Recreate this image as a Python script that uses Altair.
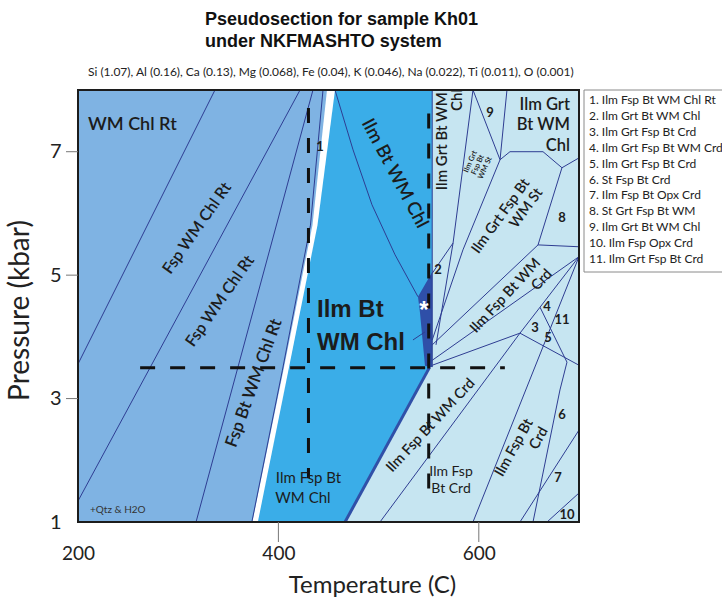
import altair as alt
import pandas as pd

# ---------------- data (temperature in C, pressure in kbar) ----------------
T_DOMAIN = [200, 700]
P_DOMAIN = [1, 8]
x_label_values = [200, 400, 600]
y_label_values = [1, 3, 5, 7]
x_tick_values = [400, 600]
y_tick_values = [3, 5, 7]

# field boundaries
left_field_T = [448.5, 434.0, 405.0, 374.0]
left_field_P = [8.0, 5.81, 3.46, 1.0]
white_band_T = [456.5, 439.0, 410.0, 379.5]
white_band_P = [8.0, 5.81, 3.46, 1.0]
mid_field_T = [553.5, 553.5, 551.0, 466.5]
mid_field_P = [8.0, 3.56, 3.51, 1.0]
star_field_T = [553.5, 539.3, 541.3, 546.3, 551.0]
star_field_P = [5.05, 4.65, 4.39, 3.53, 3.51]

# thin reaction lines (pairs of T / P lists)
L1_T = [336.7, 200.0]; L1_P = [8.0, 3.56]
L2_T = [421.6, 200.0]; L2_P = [8.0, 1.34]
L3_T = [434.5, 317.8]; L3_P = [8.0, 1.0]
L4_T = [444.5, 432.0, 404.0, 373.5]; L4_P = [8.0, 5.81, 3.46, 1.0]
C1_T = [456.5, 474.5, 493.4, 516.4, 539.3]; C1_P = [8.0, 7.03, 6.14, 5.33, 4.65]
C2_T = [534.3, 546.3]; C2_P = [3.95, 4.08]
S1_T = [553.5, 553.5]; S1_P = [8.0, 3.51]
S2_T = [594.2, 574.3, 557.3]; S2_P = [8.0, 5.52, 3.87]
S2a_T = [574.3, 553.5]; S2a_P = [5.52, 5.03]
S3_T = [594.2, 621.2]; S3_P = [8.0, 6.87]
S4_T = [628.1, 621.2]; S4_P = [8.0, 6.87]
S5_T = [621.2, 584.2, 553.5]; S5_P = [6.87, 5.41, 3.95]
S6_T = [621.2, 631.1, 664.1, 683.0]; S6_P = [6.87, 7.0, 7.0, 6.74]
S7_T = [683.0, 700.0]; S7_P = [6.74, 6.90]
S8_T = [683.0, 659.1]; S8_P = [6.74, 5.49]
S9_T = [659.1, 700.0]; S9_P = [5.49, 5.46]
S10_T = [659.1, 553.5]; S10_P = [5.49, 3.87]
S11_T = [700.0, 553.5]; S11_P = [5.30, 3.62]
S12_T = [553.5, 641.1]; S12_P = [3.54, 4.06]
S13_T = [641.1, 700.0]; S13_P = [4.06, 3.54]
S15_T = [700.0, 594.2]; S15_P = [5.30, 1.0]
S16_T = [641.1, 501.4]; S16_P = [4.06, 1.0]
S20_T = [641.1, 661.1, 700.0]; S20_P = [4.06, 4.48, 5.30]
S21_T = [661.1, 688.0, 681.0, 654.1]; S21_P = [4.48, 3.59, 3.14, 1.0]
S18_T = [700.0, 641.1]; S18_P = [2.49, 1.0]
S19_T = [700.0, 668.1]; S19_P = [1.47, 1.0]
thick_T = [551.0, 466.5]; thick_P = [3.51, 1.0]

# dashed guide lines
D1_T = [430, 430]; D1_P = [7.71, 1.71]
D2_T = [550, 550]; D2_P = [7.62, 1.47]
D3_T = [262, 626]; D3_P = [3.5, 3.5]

title_text = "Pseudosection for sample Kh01\nunder NKFMASHTO system"
subtitle_text = ("Si (1.07), Al (0.16), Ca (0.13), Mg (0.068), Fe (0.04), K (0.046), "
                 "Na (0.022), Ti (0.011), O (0.001)")
legend_items = [
    "1. Ilm Fsp Bt WM Chl Rt", "2. Ilm Grt Bt WM Chl", "3. Ilm Grt Fsp Bt Crd",
    "4. Ilm Grt Fsp Bt WM Crd", "5. Ilm Grt Fsp Bt Crd", "6. St Fsp Bt Crd",
    "7. Ilm Fsp Bt Opx Crd", "8. St Grt Fsp Bt WM", "9. Ilm Grt Bt WM Chl",
    "10. Ilm Fsp Opx Crd", "11. Ilm Grt Fsp Bt Crd",
]

# ---------------- styles ----------------
LEFT = "#7fb3e3"
MID = "#3aade8"
LIGHT = "#c6e5f1"
STAR = "#2f4fa8"
NAVY = "#2e3d92"
INK = "#1c1c1c"
FONT = "Lato"

W, H = 501, 432

xs = alt.Scale(domain=T_DOMAIN, nice=False, zero=False)
ys = alt.Scale(domain=P_DOMAIN, nice=False, zero=False)
xax = alt.Axis(values=x_label_values, title="Temperature (C)", ticks=False, domain=False,
               grid=False, labelFontSize=19, labelFont=FONT, labelColor="#222",
               labelPadding=22, labelFlush=False, labelOverlap=False,
               titleFont=FONT, titleFontSize=24, titleFontWeight="normal", titleColor="#222",
               titleX=294, titleY=63, titleAlign="center", titleBaseline="middle")
yax = alt.Axis(values=y_label_values, title="Pressure (kbar)", ticks=False, domain=False,
               grid=False, labelFontSize=20, labelFont=FONT, labelColor="#222",
               labelPadding=17, labelFlush=False, labelOverlap=False,
               titleFont=FONT, titleFontSize=28, titleFontWeight="normal", titleColor="#222",
               titleX=-58, titleY=220, titleAlign="center", titleBaseline="middle",
               titleAngle=270)


def X(f):
    return alt.X(f, type="quantitative", scale=xs, axis=xax)


def Y(f):
    return alt.Y(f, type="quantitative", scale=ys, axis=yax)


def field_area(Ts, Ps, base, color):
    df = pd.DataFrame({"T": Ts, "P": Ps, "B": [base] * len(Ts)})
    return alt.Chart(df).mark_area(orient="horizontal", fill=color, stroke=None).encode(
        y=Y("P"), x=X("T"), x2="B")


def lines(pairs, **style):
    rows = []
    for k, (Ts, Ps) in enumerate(pairs):
        for i, (t, p) in enumerate(zip(Ts, Ps)):
            rows.append({"seg": k, "i": i, "T": t, "P": p})
    return alt.Chart(pd.DataFrame(rows)).mark_line(**style).encode(
        x=X("T"), y=Y("P"), detail="seg:N", order="i:Q")


def label(text, t, p, size=15, angle=0, align="center", weight=600, color=INK,
          font=FONT, lh=None, baseline="middle"):
    kw = dict(text=text, fontSize=size, angle=angle, align=align, baseline=baseline,
              fontWeight=weight, color=color, font=font, lineBreak="\n")
    if lh:
        kw["lineHeight"] = lh
    return alt.Chart(pd.DataFrame({"T": [t], "P": [p]})).mark_text(**kw).encode(
        x=X("T"), y=Y("P"))


bg = alt.Chart(pd.DataFrame({"T0": [T_DOMAIN[0]], "T1": [T_DOMAIN[1]],
                             "P0": [P_DOMAIN[0]], "P1": [P_DOMAIN[1]]})).mark_rect(
    fill=LIGHT).encode(x=X("T0"), x2="T1", y=Y("P0"), y2="P1")

mid = field_area(mid_field_T, mid_field_P, 200, MID)
white = field_area(white_band_T, white_band_P, 200, "#ffffff")
left = field_area(left_field_T, left_field_P, 200, LEFT)
star = field_area(star_field_T, star_field_P, 553.5, STAR)

thin = lines([(L1_T, L1_P), (L2_T, L2_P), (L3_T, L3_P), (L4_T, L4_P), (C1_T, C1_P),
              (C2_T, C2_P), (S1_T, S1_P), (S2_T, S2_P), (S2a_T, S2a_P), (S3_T, S3_P),
              (S4_T, S4_P), (S5_T, S5_P), (S6_T, S6_P), (S7_T, S7_P), (S8_T, S8_P),
              (S9_T, S9_P), (S10_T, S10_P), (S11_T, S11_P), (S12_T, S12_P),
              (S13_T, S13_P), (S15_T, S15_P), (S16_T, S16_P), (S20_T, S20_P),
              (S21_T, S21_P), (S18_T, S18_P), (S19_T, S19_P)],
             color=NAVY, strokeWidth=1)
thick = lines([(thick_T, thick_P)], color="#3050a8", strokeWidth=3)
dashed = lines([(D1_T, D1_P), (D2_T, D2_P), (D3_T, D3_P)], color="#111111",
               strokeWidth=3, strokeDash=[15, 15])

labels = [
    label("WM Chl Rt", 210, 7.43, size=18, align="left"),
    label("Fsp WM Chl Rt", 318.8, 5.76, size=16, angle=305),
    label("Fsp WM Chl Rt", 341.7, 4.58, size=16, angle=305),
    label("Fsp Bt WM Chl Rt", 375.7, 3.25, size=17, angle=290),
    label("1", 441.5, 7.08, size=13, weight="bold"),
    label("+Qtz & H2O", 212, 1.19, size=10, align="left", weight="normal", color="#333"),
    label("Ilm Bt WM Chl", 516.4, 6.65, size=18.5, angle=62),
    label("Ilm Bt", 438.5, 4.435, size=24, align="left", weight="bold",
          font="Liberation Sans"),
    label("WM Chl", 438.5, 3.90, size=24, align="left", weight="bold",
          font="Liberation Sans"),
    label("*", 545.3, 4.42, size=24, weight="bold", color="#ffffff",
          font="Liberation Sans"),
    label("Ilm Fsp Bt", 430.0, 1.71, size=15, weight="normal"),
    label("WM Chl", 424.5, 1.39, size=15, weight="normal"),
    label("Ilm Grt Bt WM", 563.3, 7.17, size=15, angle=270),
    label("Chl", 578.2, 7.84, size=15, angle=270),
    label("9", 611.2, 7.63, size=13, weight="bold"),
    label("Ilm Grt\nFsp Bt\nWM St", 591.9, 6.84, size=7.5, angle=294, lh=8),
    label("Ilm Grt\nBt WM\nChl", 691, 7.76, size=16.5, align="right", lh=20.5),
    label("Ilm Grt Fsp Bt\nWM St", 648.1, 6.53, size=14.5, angle=306, align="right", lh=16),
    label("8", 683, 5.93, size=13, weight="bold"),
    label("2", 559.3, 5.08, size=13, weight="bold"),
    label("Ilm Fsp Bt WM\nCrd", 659.4, 5.23, size=14.5, angle=313, align="right", lh=16),
    label("3", 656.1, 4.14, size=13, weight="bold"),
    label("4", 668.1, 4.48, size=13, weight="bold"),
    label("5", 669.1, 3.98, size=13, weight="bold"),
    label("11", 683, 4.27, size=13, weight="bold"),
    label("Ilm Fsp Bt WM Crd", 552.3, 2.56, size=14.5, angle=313),
    label("Ilm Fsp\nBt Crd", 572.3, 1.81, size=14, weight="normal", lh=17),
    label("Ilm Fsp Bt\nCrd", 650.9, 2.65, size=14.5, angle=299, align="right", lh=17),
    label("6", 683, 2.73, size=13, weight="bold"),
    label("7", 679, 1.71, size=13, weight="bold"),
    label("10", 688, 1.11, size=13, weight="bold"),
]

frame = alt.Chart(pd.DataFrame({"T0": [T_DOMAIN[0]], "T1": [T_DOMAIN[1]],
                                "P0": [P_DOMAIN[0]], "P1": [P_DOMAIN[1]]})).mark_rect(
    filled=False, stroke=INK, strokeWidth=2).encode(x=X("T0"), x2="T1", y=Y("P0"), y2="P1")

xticks = alt.Chart(pd.DataFrame({"T": x_tick_values})).mark_rule(
    color="#777", strokeWidth=1).encode(x=X("T"), y=alt.value(H), y2=alt.value(H + 20))
yticks = alt.Chart(pd.DataFrame({"P": y_tick_values})).mark_rule(
    color="#777", strokeWidth=1).encode(y=Y("P"), x=alt.value(-12), x2=alt.value(0))

one = pd.DataFrame({"a": [0]})
title = alt.Chart(one).mark_text(text=title_text, lineBreak="\n", font="Liberation Sans",
                                 fontWeight="bold", fontSize=18, lineHeight=22,
                                 align="left", baseline="middle", color="#111").encode(
    x=alt.value(127), y=alt.value(-70))
subtitle = alt.Chart(one).mark_text(text=subtitle_text, font=FONT, fontSize=12,
                                    align="left", baseline="middle", color="#222").encode(
    x=alt.value(10), y=alt.value(-18))
legend_box = alt.Chart(one).mark_rect(fill="#ffffff", stroke="#8a8a8a", strokeWidth=1).encode(
    x=alt.value(506), x2=alt.value(680), y=alt.value(0), y2=alt.value(182))
legend_text = alt.Chart(one).mark_text(text="\n".join(legend_items), lineBreak="\n",
                                       font=FONT, fontSize=12, lineHeight=15.9,
                                       align="left", baseline="top", color="#222").encode(
    x=alt.value(511), y=alt.value(5))

chart = alt.layer(bg, mid, white, left, star, thin, thick, dashed, *labels, frame,
                  xticks, yticks, title, subtitle, legend_box, legend_text).properties(
    width=W, height=H,
    autosize=alt.AutoSizeParams(type="none"),
    padding={"left": 78, "top": 90, "right": 143, "bottom": 76},
    background="#ffffff",
).configure_view(stroke=None)

chart.save("out.html", embed_options={"renderer": "svg", "actions": False})
